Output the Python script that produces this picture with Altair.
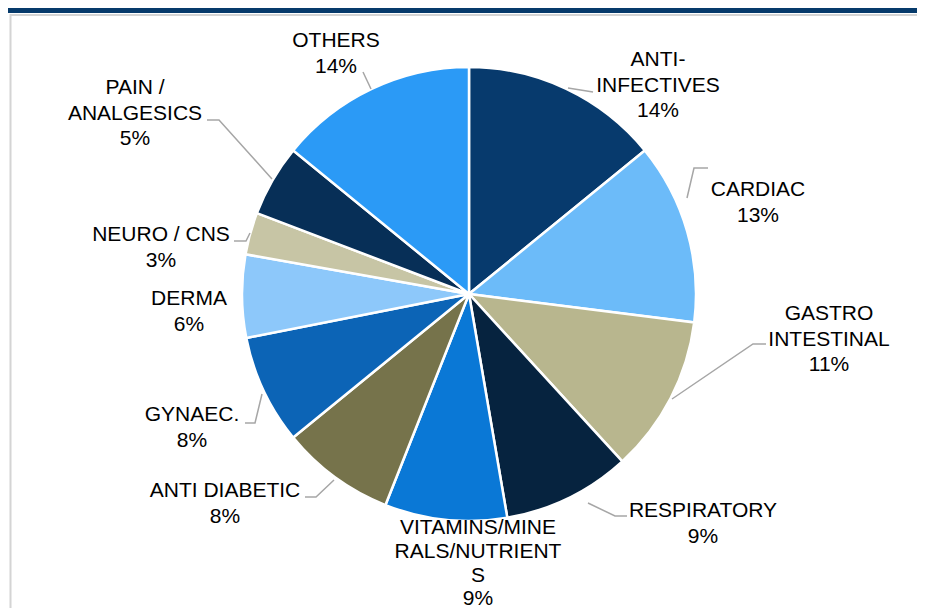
import altair as alt
import pandas as pd

# ---- data ----
categories = [
    "ANTI-\nINFECTIVES", "CARDIAC", "GASTRO\nINTESTINAL", "RESPIRATORY",
    "VITAMINS/MINE\nRALS/NUTRIENT\nS", "ANTI DIABETIC", "GYNAEC.", "DERMA",
    "NEURO / CNS", "PAIN /\nANALGESICS", "OTHERS",
]
shares = [14.1, 12.9, 11.2, 9.1, 8.7, 8.1, 7.8, 5.9, 3.0, 5.1, 14.1]

# ---- styling / layout ----
colors = [
    "#073a6d", "#6cbbf9", "#b8b68e", "#06233f", "#0a78d6", "#76734b",
    "#0c64b6", "#8dc8fa", "#c7c5a5", "#072f57", "#2b9af6",
]
label_x = [650, 750, 821, 695, 470, 217, 184, 181, 153, 127, 328]
label_y = [58, 188, 312, 509, 526, 489, 413, 297, 233, 86, 39]
leaders = {
    "ANTI-\nINFECTIVES": [(560, 80), (585, 84)],
    "CARDIAC": [(679, 190), (686, 160), (700, 160)],
    "GASTRO\nINTESTINAL": [(664, 391), (745, 336), (758, 336)],
    "RESPIRATORY": [(580, 495), (607, 508), (619, 508)],
    "ANTI DIABETIC": [(326, 472), (308, 489), (297, 489)],
    "GYNAEC.": [(254, 386), (247, 415), (237, 415)],
    "NEURO / CNS": [(242, 225), (238, 233), (226, 233)],
    "PAIN /\nANALGESICS": [(264, 171), (211, 112), (199, 112)],
    "OTHERS": [(355, 64), (363, 81)],
}
tight_label = "VITAMINS/MINE\nRALS/NUTRIENT\nS"

W, H = 909, 600
CX, CY, R = 461, 286, 227
FONT, FS = "Liberation Sans", 21

df = pd.DataFrame({
    "cat": categories,
    "share": shares,
    "idx": list(range(len(categories))),
    "label": [f"{c}\n{round(s)}%" for c, s in zip(categories, shares)],
    "lx": label_x,
    "ly": label_y,
})

rows = []
for g, pts in leaders.items():
    for i, (x, y) in enumerate(pts):
        rows.append({"g": g, "o": i, "x": x, "y": y})
lines_df = pd.DataFrame(rows)

base = alt.Chart(df)

pie = base.mark_arc(radius=R, stroke="white", strokeWidth=2.5).encode(
    theta=alt.Theta("share:Q", stack=True),
    order=alt.Order("idx:Q"),
    color=alt.Color("cat:N", scale=alt.Scale(domain=categories, range=colors), legend=None),
    x=alt.value(CX),
    y=alt.value(CY),
)

text_enc = dict(
    x=alt.X("lx:Q", scale=None),
    y=alt.Y("ly:Q", scale=None),
    text="label:N",
)

labels = base.transform_filter(alt.datum.cat != tight_label).mark_text(
    font=FONT, fontSize=FS, lineBreak="\n", lineHeight=25.5,
    align="center", baseline="alphabetic", color="#000000",
).encode(**text_enc)

labels_tight = base.transform_filter(alt.datum.cat == tight_label).mark_text(
    font=FONT, fontSize=FS, lineBreak="\n", lineHeight=23.8,
    align="center", baseline="alphabetic", color="#000000",
).encode(**text_enc)

lead = alt.Chart(lines_df).mark_line(color="#a6a6a6", strokeWidth=1.5).encode(
    x=alt.X("x:Q", scale=None),
    y=alt.Y("y:Q", scale=None),
    detail="g:N",
    order="o:Q",
)

frame_df = pd.DataFrame({"k": [0]})
topbar = alt.Chart(frame_df).mark_rect(color="#063a6b").encode(
    x=alt.value(0), x2=alt.value(W), y=alt.value(0), y2=alt.value(5)
)
topline = alt.Chart(frame_df).mark_rule(color="#d4d4d4", strokeWidth=2).encode(
    x=alt.value(2), x2=alt.value(W), y=alt.value(7)
)
leftline = alt.Chart(frame_df).mark_rule(color="#d4d4d4", strokeWidth=2).encode(
    x=alt.value(2.5), y=alt.value(6), y2=alt.value(H)
)

chart = alt.layer(topbar, topline, leftline, pie, lead, labels, labels_tight).properties(
    width=W, height=H, padding=0,
    autosize=alt.AutoSizeParams(type="fit", contains="padding"),
    background="white",
).configure_view(stroke=None)

chart.save("out.html", embed_options={"renderer": "svg", "actions": False})
